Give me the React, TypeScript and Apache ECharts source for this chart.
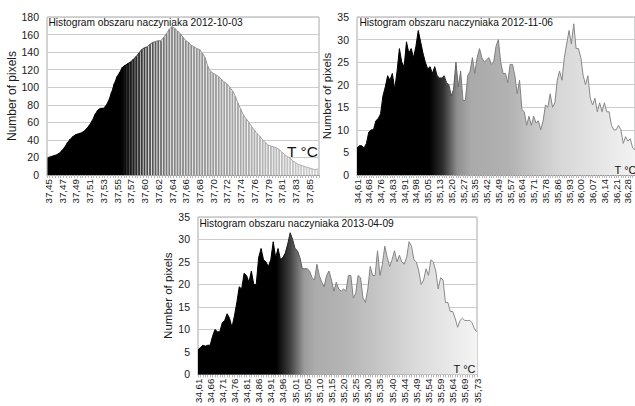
import React, { useEffect, useRef } from 'react';
import * as echarts from 'echarts';

const FONT = '"Liberation Sans", Arial, sans-serif';

const chart1Ticks = ['37,45','37,47','37,49','37,51','37,53','37,55','37,57','37,60','37,62','37,64','37,66','37,68','37,70','37,72','37,74','37,76','37,79','37,81','37,83','37,85'];
const chart1Values = [
  20,21,22,23,25,28,32,37,41,44,
  46,47,48,50,53,57,62,69,74,76,
  76,79,85,94,104,112,117,123,125,127,
  129,132,135,139,143,145,146,149,151,152,
  153,153,157,161,166,169,167,164,161,157,
  153,151,148,146,144,143,139,134,124,118,
  116,114,112,109,106,104,100,96,90,82,
  75,68,64,60,55,51,47,44,40,37,
  34,33,32,31,29,26,23,21,19,16,
  14,12,11,10,9,8,7,6,7
];

const chart2Ticks = ['34,61','34,68','34,76','34,83','34,91','34,98','35,05','35,13','35,20','35,27','35,35','35,42','35,49','35,57','35,64','35,71','35,78','35,86','35,93','36,00','36,07','36,14','36,21','36,28'];
const chart2Values = [
  6,6.5,6.5,6,7,9.5,10,10,12,12.5,
  13.5,17.5,19.5,22,21,22.5,19,23,28,25,
  24,29.5,27,28,26,28.5,32,29.5,27,25,
  23.5,24,22.5,24,22,21.5,21.5,22,20.5,20,
  17.5,19,25,19.5,23,16.5,16.5,22,23,26,
  22.5,26,28,26,25,25.5,26,24.5,25,28.5,
  30,25,22.5,22.5,20.5,24.5,24.5,22,18,21,
  14.5,14,11,13,11,13,11.5,12,10,12,
  15.5,15,18,15,16,21,23,21,26,29,
  32,29,33.5,28,28,26,22,20,22,17,
  15.5,17,14,16,14,16,14,14,11,10,
  10,11,10,7,8.5,7.5,8,6,5.5
];

const chart3Ticks = ['34,61','34,66','34,71','34,76','34,81','34,86','34,91','34,96','35,01','35,05','35,10','35,15','35,20','35,25','35,30','35,35','35,40','35,44','35,49','35,54','35,59','35,64','35,69','35,73'];
const chart3Values = [
  5.5,6,6.5,6.3,6.5,6.5,8.5,10,9.5,9.5,
  11.5,12,13.5,12.5,10.5,13,16,19.5,19,22.5,
  22,20.5,23,20,20,26,28,25.5,25,24,
  25.5,29.5,26,28,25.5,26,27,29,31.5,30,
  28,27.5,26,23.5,23.5,23.5,23,21.5,21,24.5,
  22,20.5,19.5,22,23,21,18.5,20.5,19,18.5,
  19,18.5,22,22,17,18,22,21.5,17,16,
  19,24,22,22,27.5,22,24.5,28.5,26,24,
  25.5,27.5,25,26.5,25,24.5,26,29.5,28.5,25.5,
  25,23,20,21,23.5,22,25.5,25,23,19,
  21.5,21,16,16,14,14,12.5,10.5,12,12.5,
  12,12,12,11.5,10,9.5
];

const titles = [
  'Histogram obszaru naczyniaka 2012-10-03',
  'Histogram obszaru naczyniaka 2012-11-06',
  'Histogram obszaru naczyniaka 2013-04-09',
];
const yName = 'Number of pixels';
const unitLabel = 'T °C';
const TICK_STEP = 5;

const grad = (stops: [number, string][]) =>
  new echarts.graphic.LinearGradient(0, 0, 1, 0, stops.map(([offset, color]) => ({ offset, color })));

const grayHex = (g: number) => {
  const v = Math.max(0, Math.min(255, Math.round(g)));
  const h = v.toString(16).padStart(2, '0');
  return '#' + h + h + h;
};

const barShade = (i: number, n: number) => {
  const t = i / (n - 1);
  if (t <= 0.27) return '#000000';
  if (t < 0.45) return grayHex(((t - 0.27) / 0.18) * 130);
  return grayHex(130 + ((t - 0.45) / 0.55) * 78);
};

const cats = (values: number[]) => values.map((_, i) => String(i));
const tickFormatter = (ticks: string[]) => (_v: string, i: number) =>
  i % TICK_STEP === 0 && ticks[i / TICK_STEP] !== undefined ? ticks[i / TICK_STEP] : '';

const xAxisBase = (gridIndex: number, values: number[], ticks: string[], boundaryGap: boolean) => ({
  type: 'category',
  gridIndex,
  data: cats(values),
  boundaryGap,
  axisLine: { show: true, lineStyle: { color: '#9a9a9a', width: 1 } },
  axisTick: { show: true, interval: 0, length: 3, lineStyle: { color: '#b8b8b8' } },
  axisLabel: {
    interval: TICK_STEP - 1,
    rotate: 90,
    margin: 4,
    fontSize: 9.8,
    fontFamily: FONT,
    color: '#1a1a1a',
    formatter: tickFormatter(ticks),
  },
  splitLine: { show: false },
});

const yAxisBase = (gridIndex: number, max: number, interval: number, nameGap: number, nameSize: number) => ({
  type: 'value',
  gridIndex,
  min: 0,
  max,
  interval,
  name: yName,
  nameLocation: 'middle',
  nameGap,
  nameTextStyle: { fontSize: nameSize, fontFamily: FONT, color: '#1a1a1a' },
  axisLine: { show: false },
  axisTick: { show: false },
  axisLabel: { fontSize: 10.5, fontFamily: FONT, color: '#1a1a1a', margin: 8 },
  splitLine: { show: true, lineStyle: { color: '#cccccc', width: 1 } },
});

const textEl = (text: string, x: number, y: number, size: number, align: string = 'left') => ({
  type: 'text',
  x,
  y,
  z: 100,
  style: {
    text,
    fill: '#111111',
    font: `${size}px ${FONT}`,
    textAlign: align,
    textVerticalAlign: 'top',
  },
});

export default function App() {
  const ref = useRef<HTMLDivElement>(null);
  useEffect(() => {
    if (!ref.current) return;
    const chart = echarts.init(ref.current, undefined, { renderer: 'svg' });
    const n1 = chart1Values.length;
    const option = {
      animation: false,
      backgroundColor: '#ffffff',
      grid: [
        { left: 47, top: 17, width: 272, height: 158, show: true, borderColor: '#a8a8a8', borderWidth: 1, backgroundColor: 'transparent' },
        { left: 357, top: 17, width: 280, height: 158, show: true, borderColor: '#a8a8a8', borderWidth: 1, backgroundColor: 'transparent' },
        { left: 198, top: 217, width: 279, height: 160, show: true, borderColor: '#a8a8a8', borderWidth: 1, backgroundColor: 'transparent' },
      ],
      xAxis: [
        xAxisBase(0, chart1Values, chart1Ticks, true),
        xAxisBase(1, chart2Values, chart2Ticks, false),
        xAxisBase(2, chart3Values, chart3Ticks, false),
      ],
      yAxis: [
        yAxisBase(0, 180, 20, 28, 12),
        yAxisBase(1, 35, 5, 21, 11.5),
        yAxisBase(2, 35, 5, 23, 11.5),
      ],
      series: [
        {
          type: 'line',
          xAxisIndex: 0,
          yAxisIndex: 0,
          data: chart1Values,
          symbol: 'none',
          lineStyle: { width: 0 },
          areaStyle: { opacity: 1, color: grad([[0, '#000000'], [0.27, '#000000'], [0.36, '#ececec'], [1, '#fbfbfb']]) },
          z: 1,
        },
        {
          type: 'bar',
          xAxisIndex: 0,
          yAxisIndex: 0,
          barCategoryGap: '35%',
          data: chart1Values.map((v, i) => ({ value: v, itemStyle: { color: barShade(i, n1) } })),
          z: 2,
        },
        {
          type: 'line',
          xAxisIndex: 0,
          yAxisIndex: 0,
          data: chart1Values,
          symbol: 'none',
          lineStyle: { width: 1, color: grad([[0, '#000000'], [0.3, '#000000'], [0.42, '#8a8a8a'], [1, '#b0b0b0']]) },
          z: 3,
        },
        {
          type: 'line',
          xAxisIndex: 1,
          yAxisIndex: 1,
          data: chart2Values,
          symbol: 'none',
          lineStyle: { width: 1, color: grad([[0, '#000000'], [0.27, '#000000'], [0.38, '#7c7c7c'], [1, '#8c8c8c']]) },
          areaStyle: {
            opacity: 1,
            color: grad([[0, '#000000'], [0.26, '#000000'], [0.31, '#303030'], [0.36, '#8e8e8e'], [0.41, '#aaaaaa'], [0.55, '#b2b2b2'], [0.62, '#c2c2c2'], [0.72, '#d6d6d6'], [1, '#f2f2f2']]),
          },
        },
        {
          type: 'line',
          xAxisIndex: 2,
          yAxisIndex: 2,
          data: chart3Values,
          symbol: 'none',
          lineStyle: { width: 1, color: grad([[0, '#000000'], [0.3, '#000000'], [0.4, '#7c7c7c'], [1, '#8c8c8c']]) },
          areaStyle: {
            opacity: 1,
            color: grad([[0, '#000000'], [0.28, '#000000'], [0.33, '#404040'], [0.38, '#9a9a9a'], [0.42, '#acacac'], [0.52, '#b4b4b4'], [0.65, '#c6c6c6'], [0.78, '#dadada'], [1, '#f4f4f4']]),
          },
        },
      ],
      graphic: [
        textEl(titles[0], 48.5, 17, 10.2),
        textEl(titles[1], 359.5, 17, 10.2),
        textEl(titles[2], 199.5, 218, 10.2),
        textEl(unitLabel, 318, 143, 15.5, 'right'),
        textEl(unitLabel, 636.5, 164, 11, 'right'),
        textEl(unitLabel, 475.5, 363.5, 11, 'right'),
      ],
    };
    chart.setOption(option as any);
    return () => chart.dispose();
  }, []);
  return (
    <div
      ref={ref}
      style={{ position: 'absolute', left: 0, top: 0, width: 635, height: 406, overflow: 'hidden' }}
    />
  );
}
